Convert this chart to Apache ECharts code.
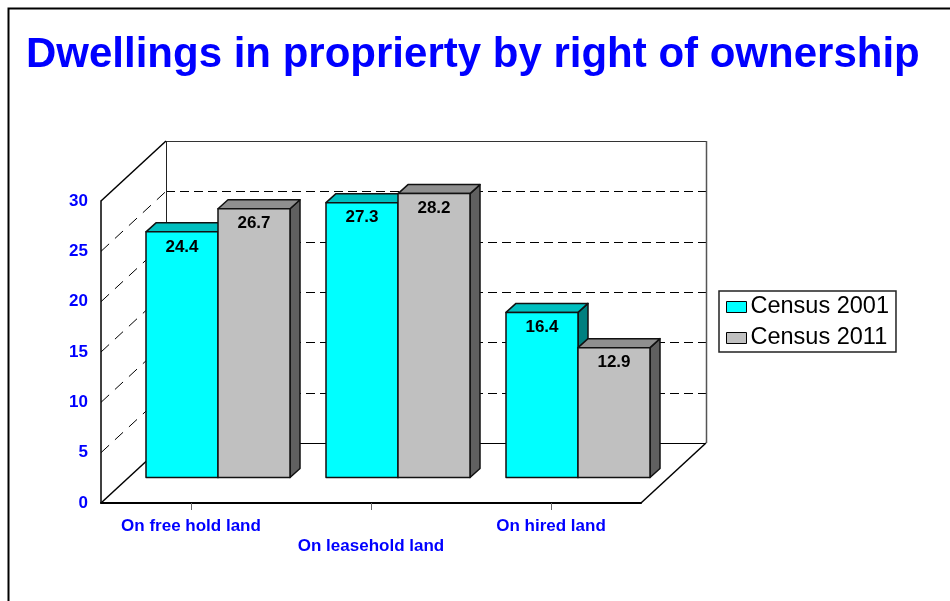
<!DOCTYPE html>
<html>
<head>
<meta charset="utf-8">
<style>
  html, body { margin: 0; padding: 0; background: #fff; }
  #chart { width: 950px; height: 601px; }
</style>
<script src="https://cdn.jsdelivr.net/npm/echarts@6/dist/echarts.min.js"></script>
</head>
<body>
<div id="chart"></div>
<script>
const categories = ['On free hold land', 'On leasehold land', 'On hired land'];
const census2001 = [24.4, 27.3, 16.4];
const census2011 = [26.7, 28.2, 12.9];
const wallTicks = [0, 5, 10, 15, 20, 25, 30];

// fake 3d: px offsets of the back wall, the bar front plane and the bar depth
const WALL_DX = 65, WALL_DY = -60;
const BAR_DX = 27, BAR_DY = -25.5;
const DEPTH_DX = 10, DEPTH_DY = -9;
const BLUE = '#0000ff';
const FONT = '"Liberation Sans", Arial, sans-serif';

const px = v => Math.round(v) + 0.5;

function line(x1, y1, x2, y2, style) {
  return { type: 'line', shape: { x1, y1, x2, y2 }, style: Object.assign({ stroke: '#000', lineWidth: 1 }, style) };
}

function renderWall(params, api) {
  const cs = params.coordSys;
  const v = api.value(0);
  const y = api.coord([0, v])[1];
  const left = cs.x, right = cs.x + cs.width;
  const by = y + WALL_DY;
  const children = [];
  if (v === 0) {
    // floor
    children.push(line(left, y, left + WALL_DX, by, { lineWidth: 1.5 }));
    children.push(line(right, y, right + WALL_DX, by, { lineWidth: 1.5 }));
    children.push(line(left + WALL_DX, px(by), right + WALL_DX, px(by)));
  } else if (v === 30) {
    children.push(line(left, y, left + WALL_DX, by, { lineWidth: 1.5 }));
    children.push(line(left + WALL_DX, px(by), right + WALL_DX, px(by), { stroke: '#333' }));
    children.push(line(left + WALL_DX + 0.5, by, left + WALL_DX + 0.5, cs.y + cs.height + WALL_DY, { stroke: '#222' }));
    children.push(line(right + WALL_DX + 0.5, by, right + WALL_DX + 0.5, cs.y + cs.height + WALL_DY, { stroke: '#555', lineWidth: 1.5 }));
  } else {
    children.push(line(left, y, left + WALL_DX, by, { lineDash: [11, 8] }));
    children.push(line(left + WALL_DX, px(by), right + WALL_DX, px(by), { lineDash: [9, 5] }));
  }
  return { type: 'group', children };
}

function bar3d(offset, front, top, side) {
  return function (params, api) {
    const cat = api.value(0), val = api.value(1);
    const base = api.coord([cat, 0]);
    const head = api.coord([cat, val]);
    const w = api.size([1, 0])[0] * 0.4;
    const x0 = base[0] + BAR_DX + offset * w;
    const x1 = x0 + w;
    const y0 = base[1] + BAR_DY;
    const y1 = head[1] + BAR_DY;
    const edge = { stroke: '#111', lineWidth: 1.5, lineJoin: 'round' };
    return {
      type: 'group',
      children: [
        { type: 'polygon', shape: { points: [[x1, y1], [x1 + DEPTH_DX, y1 + DEPTH_DY], [x1 + DEPTH_DX, y0 + DEPTH_DY], [x1, y0]] }, style: Object.assign({ fill: side }, edge) },
        { type: 'polygon', shape: { points: [[x0, y1], [x0 + DEPTH_DX, y1 + DEPTH_DY], [x1 + DEPTH_DX, y1 + DEPTH_DY], [x1, y1]] }, style: Object.assign({ fill: top }, edge) },
        { type: 'rect', shape: { x: x0, y: y1, width: w, height: y0 - y1 }, style: Object.assign({ fill: front }, edge) },
        { type: 'text', style: { x: (x0 + x1) / 2, y: y1 + 15, text: val.toFixed(1), fill: '#000', font: 'bold 17px ' + FONT, align: 'center', verticalAlign: 'middle' } }
      ]
    };
  };
}

const chart = echarts.init(document.getElementById('chart'), null, { renderer: 'canvas' });

chart.setOption({
  backgroundColor: '#fff',
  animation: false,
  title: {
    text: 'Dwellings in proprierty by right of ownership',
    left: 21,
    top: 29,
    textStyle: { color: BLUE, fontFamily: FONT, fontWeight: 'bold', fontSize: 42 }
  },
  legend: {
    data: ['Census 2001', 'Census 2011'],
    orient: 'vertical',
    left: 719,
    top: 291,
    padding: [4, 7, 2, 7],
    itemGap: 7,
    itemWidth: 20,
    itemHeight: 11,
    icon: 'rect',
    borderColor: '#222',
    borderWidth: 1.5,
    itemStyle: { borderColor: '#000', borderWidth: 1 },
    textStyle: { color: '#000', fontFamily: FONT, fontSize: 23.5, padding: [0, 0, 0, -1] }
  },
  grid: { left: 101, top: 201, width: 540, height: 302 },
  xAxis: {
    type: 'category',
    data: categories,
    axisLine: { lineStyle: { color: '#000', width: 2 } },
    axisTick: { show: true, alignWithLabel: true, length: 7, lineStyle: { color: '#666', width: 1 } },
    axisLabel: {
      interval: 0,
      margin: 13,
      color: BLUE,
      fontFamily: FONT,
      fontWeight: 'bold',
      fontSize: 17,
      lineHeight: 20,
      formatter: (v, i) => (i % 2 ? '\n' + v : v)
    }
  },
  yAxis: {
    type: 'value',
    min: 0,
    max: 30,
    interval: 5,
    splitLine: { show: false },
    axisLine: { show: true, lineStyle: { color: '#000', width: 1.5 } },
    axisTick: { show: false },
    axisLabel: { margin: 13, color: BLUE, fontFamily: FONT, fontWeight: 'bold', fontSize: 17 }
  },
  graphic: [{
    type: 'rect',
    silent: true,
    z: -1,
    shape: { x: 8.5, y: 8.5, width: 960, height: 620 },
    style: { fill: 'none', stroke: '#000', lineWidth: 2 }
  }],
  series: [
    {
      type: 'custom',
      name: 'walls',
      z: 1,
      clip: false,
      encode: { y: 0 },
      data: wallTicks.map(v => [v]),
      renderItem: renderWall
    },
    {
      type: 'custom',
      name: 'Census 2001',
      z: 2,
      clip: false,
      itemStyle: { color: '#00ffff' },
      encode: { x: 0, y: 1 },
      data: census2001.map((v, i) => [i, v]),
      renderItem: bar3d(-1, '#00ffff', '#00bfbf', '#008080')
    },
    {
      type: 'custom',
      name: 'Census 2011',
      z: 3,
      clip: false,
      itemStyle: { color: '#c0c0c0' },
      encode: { x: 0, y: 1 },
      data: census2011.map((v, i) => [i, v]),
      renderItem: bar3d(0, '#c0c0c0', '#8f8f8f', '#606060')
    }
  ]
});

window.addEventListener('resize', () => chart.resize());
</script>
</body>
</html>
